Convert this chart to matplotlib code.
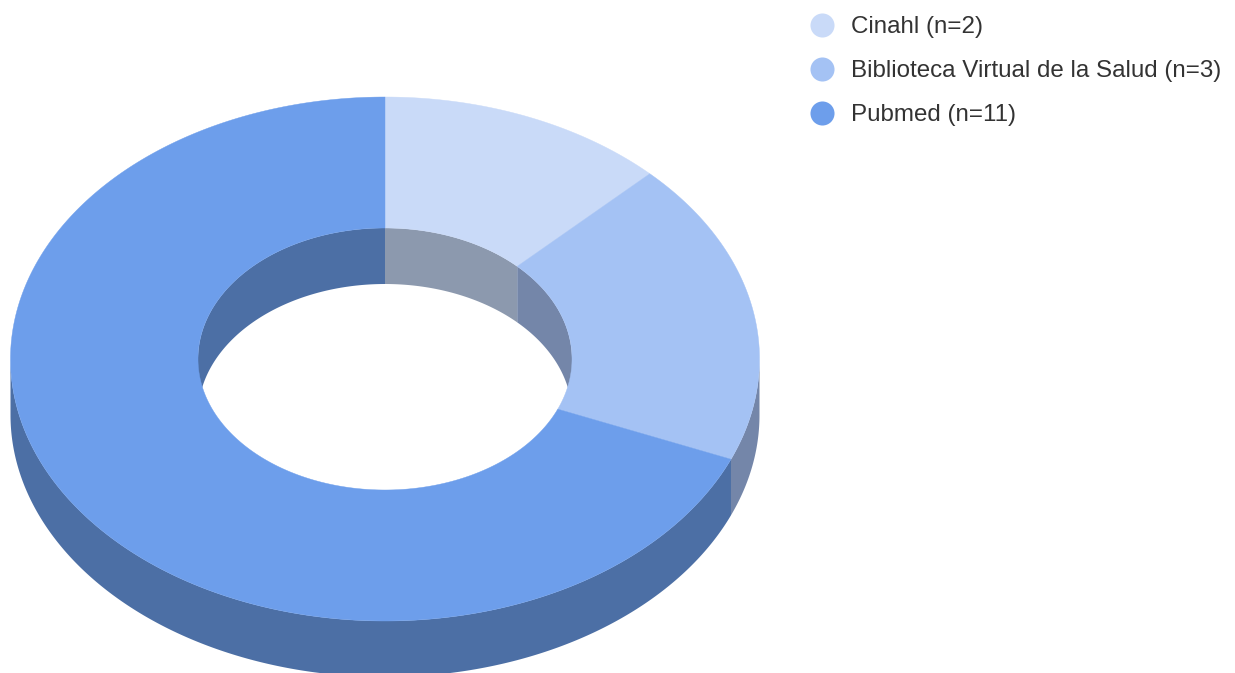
import numpy as np
import matplotlib
matplotlib.use('Agg')
import matplotlib.pyplot as plt

# Records found per database
databases = ['Cinahl', 'Biblioteca Virtual de la Salud', 'Pubmed']
records = [2, 3, 11]
labels = ['Cinahl (n=2)', 'Biblioteca Virtual de la Salud (n=3)', 'Pubmed (n=11)']

top_colors = ['#c9daf8', '#a4c2f4', '#6d9eeb']
wall_colors = ['#8c99ae', '#7486a9', '#4c6fa5']
legend_colors = ['#c9daf8', '#a4c2f4', '#6d9eeb']

# Ring geometry, in pixels
cx, cy = 385, 359
rx_out, ry_out = 374.5, 262
rx_in, ry_in = 187, 131
depth = 56


def arc(a0, a1, rx, ry, dy=0):
    # angles are clockwise from twelve o'clock
    t = np.radians(np.linspace(a0, a1, 300))
    return cx + rx * np.sin(t), cy - ry * np.cos(t) + dy


def band(ax, x0, y0, x1, y1, color, z, lw):
    ax.fill(np.r_[x0, x1[::-1]], np.r_[y0, y1[::-1]],
            color=color, lw=lw, zorder=z)


fig = plt.figure(figsize=(12.35, 6.73), dpi=100)
ax = fig.add_axes([0, 0, 1, 1])
ax.set_xlim(0, 1235)
ax.set_ylim(673, 0)
ax.axis('off')

edges = np.r_[0, np.cumsum(records)] / np.sum(records) * 360

for i in range(len(records)):
    a0, a1 = edges[i], edges[i + 1]

    # outer wall shows on the front half only
    lo, hi = max(a0, 90), min(a1, 270)
    if lo < hi:
        x, y = arc(lo, hi, rx_out, ry_out)
        x2, y2 = arc(lo, hi, rx_out, ry_out, depth)
        band(ax, x, y, x2, y2, wall_colors[i], 1, 0)

    # inner wall shows on the back half, split at twelve o'clock
    for lo, hi in [(a0, min(a1, 90)), (max(a0, 270), a1)]:
        if lo < hi:
            x, y = arc(lo, hi, rx_in, ry_in)
            x2, y2 = arc(lo, hi, rx_in, ry_in, depth)
            band(ax, x, y, x2, y2, wall_colors[i], 1, 0)

    # top face
    x, y = arc(a0, a1, rx_out, ry_out)
    x2, y2 = arc(a0, a1, rx_in, ry_in)
    band(ax, x, y, x2, y2, top_colors[i], 2, 0.3)

# legend
for i, label in enumerate(labels):
    y = 25 + 44 * i
    ax.scatter([822], [y], s=300, color=legend_colors[i], linewidths=0, zorder=3)
    ax.text(851, y - 1, label, fontsize=17.4, family='Liberation Sans',
            color='#333333', va='center_baseline', ha='left')

fig.savefig('out.png', dpi=100)
